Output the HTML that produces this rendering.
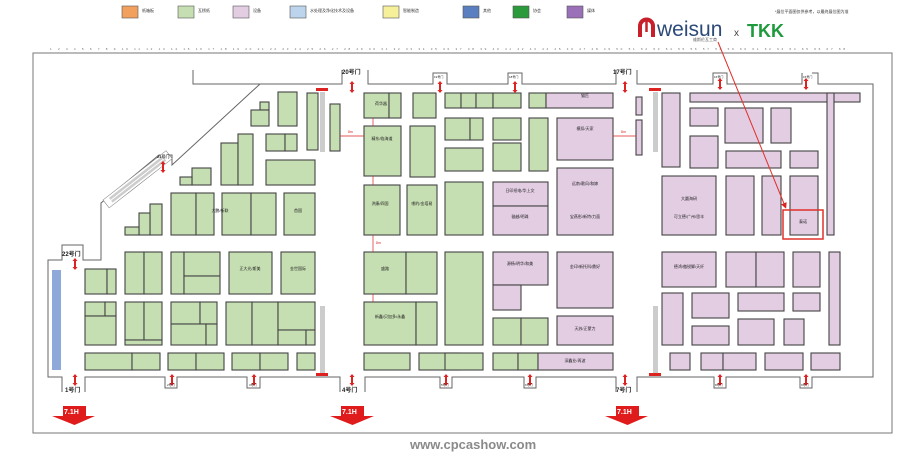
<!DOCTYPE html>
<html><head><meta charset="utf-8"><style>
html,body{margin:0;padding:0;background:#fff;width:918px;height:454px;overflow:hidden}
svg{display:block}
.g{fill:#c6dfb2;stroke:#444;stroke-width:1.1}
.p{fill:#e3cde3;stroke:#444;stroke-width:1.1}
.w{fill:none;stroke:#666;stroke-width:1}
text{font-family:"Liberation Sans","Noto Sans CJK SC",sans-serif}
.t{font-size:4px;fill:#222;text-anchor:middle}
.gl{font-size:6px;font-weight:bold;fill:#222}
</style></head><body>
<svg width="918" height="454" viewBox="0 0 918 454" xmlns="http://www.w3.org/2000/svg">
<defs>
<marker id="ah" markerWidth="6" markerHeight="6" refX="3" refY="3" orient="auto"><path d="M0,0 L6,3 L0,6z" fill="#d22"/></marker>
<g id="da"><path d="M0,-6 L-2.5,-3 L-1,-3 L-1,3 L-2.5,3 L0,6 L2.5,3 L1,3 L1,-3 L2.5,-3z" fill="#d22"/></g>
</defs>
<g font-size="4" fill="#333">
<rect x="122" y="6" width="16" height="12" fill="#f2a05e" stroke="#555" stroke-width=".6"/><text x="142" y="12" style="font-size:4px">纸箱板</text>
<rect x="178" y="6" width="16" height="12" fill="#c6dfb2" stroke="#555" stroke-width=".6"/><text x="198" y="12" style="font-size:4px">瓦楞纸</text>
<rect x="233" y="6" width="16" height="12" fill="#e3cde3" stroke="#555" stroke-width=".6"/><text x="253" y="12" style="font-size:4px">设备</text>
<rect x="290" y="6" width="16" height="12" fill="#bcd5ec" stroke="#555" stroke-width=".6"/><text x="310" y="12" style="font-size:4px">水处理及净化技术及设备</text>
<rect x="383" y="6" width="16" height="12" fill="#f6f09a" stroke="#555" stroke-width=".6"/><text x="403" y="12" style="font-size:4px">智能制造</text>
<rect x="463" y="6" width="16" height="12" fill="#5a7fc0" stroke="#555" stroke-width=".6"/><text x="483" y="12" style="font-size:4px">其他</text>
<rect x="513" y="6" width="16" height="12" fill="#2a9a3a" stroke="#555" stroke-width=".6"/><text x="533" y="12" style="font-size:4px">协会</text>
<rect x="567" y="6" width="16" height="12" fill="#9a70b8" stroke="#555" stroke-width=".6"/><text x="587" y="12" style="font-size:4px">媒体</text>
<text x="775" y="13" style="font-size:4px">*展位平面图仅供参考，以最终展位图为准</text>
</g>
<path d="M640,37 L640,26 A6.5,6.5 0 0 1 653,26 L653,37" fill="none" stroke="#c8202a" stroke-width="4"/>
<path d="M646.5,21 L646.5,32" stroke="#c8202a" stroke-width="2.5"/>
<text x="657" y="36" font-size="21" fill="#2c4a78" font-family="Liberation Sans,sans-serif">weisun</text>
<text x="693" y="41" font-size="4" fill="#555">维斯伦瓦工商</text>
<text x="734" y="36" font-size="10" fill="#444">x</text>
<text x="747" y="37" font-size="18" font-weight="bold" fill="#1e9a3c">TKK</text>
<g font-size="3" fill="#666">
<text x="50" y="50" textLength="795" lengthAdjust="spacing">1 2 3 4 5 6 7 8 9 10 11 12 13 14 15 16 17 18 19 20 21 22 23 24 25 26 27 28 29 30 31 32 33 34 35 36 37 38 39 40 41 42 43 44 45 46 47 48 49 50 51 52 53 54 55 56 57 58 59 60 61 62 63 64 65 66 67 68</text>
</g>
<rect x="33" y="53" width="859" height="380" fill="none" stroke="#777" stroke-width="1"/>
<polyline class="w" points="260,84 193,84 193,70"/>
<polyline class="w" points="260,84 172,165 172,155 159,155 101,203 101,260 83,260 83,245 62,245 62,260 48,260 48,377 62,377 62,392"/>
<polyline class="w" points="85,392 85,377 165,377 165,388 177,388 177,377 247,377 247,388 260,388 260,377 340,377 340,392"/>
<polyline class="w" points="365,392 365,377 440,377 440,388 452,388 452,377 524,377 524,388 536,388 536,377 616,377 616,392"/>
<polyline class="w" points="637,392 637,377 714,377 714,388 726,388 726,377 800,377 800,388 812,388 812,377 873,377 873,84 818,84 818,73 812,73"/>
<polyline class="w" points="802,73 802,84 727,84 727,73 713,73 713,84 637,84 637,70"/>
<polyline class="w" points="616,70 616,84 522,84 522,73 508,73 508,84 447,84 447,73 433,73 433,84 368,84 368,70"/>
<polyline class="w" points="342,70 342,84 260,84"/>
<g transform="translate(103,200) rotate(-38)"><rect x="0" y="0" width="80" height="10" fill="#fff" stroke="#888" stroke-width=".6"/><rect x="6" y="2" width="68" height="2.5" fill="#ccc"/><rect x="6" y="5.5" width="68" height="2.5" fill="#ccc"/></g>
<rect x="52" y="270" width="9" height="100" fill="#8ea9d9"/>
<rect x="320" y="92" width="5" height="60" fill="#ccc"/><rect x="316" y="88" width="12" height="3" fill="#d22"/>
<rect x="320" y="306" width="5" height="68" fill="#ccc"/><rect x="316" y="373" width="12" height="3" fill="#d22"/>
<rect x="653" y="92" width="5" height="60" fill="#ccc"/><rect x="649" y="88" width="12" height="3" fill="#d22"/>
<rect x="653" y="306" width="5" height="68" fill="#ccc"/><rect x="649" y="373" width="12" height="3" fill="#d22"/>
<g class="g">
<rect x="260" y="102" width="9" height="8"/><rect x="251" y="110" width="18" height="16"/>
<rect x="278" y="92" width="19" height="34"/>
<rect x="307" y="93" width="11" height="57"/><rect x="330" y="104" width="10" height="47"/>
<rect x="221" y="143" width="17" height="42"/><rect x="238" y="134" width="15" height="51"/>
<rect x="266" y="134" width="19" height="17"/><rect x="285" y="134" width="12" height="17"/>
<rect x="192" y="168" width="19" height="17"/><rect x="180" y="177" width="12" height="8"/>
<rect x="266" y="160" width="49" height="25"/>
<rect x="364" y="93" width="25" height="25"/><rect x="389" y="93" width="12" height="25"/>
<rect x="413" y="93" width="23" height="25"/>
<rect x="364" y="126" width="37" height="50"/><rect x="410" y="126" width="25" height="51"/>
<rect x="364" y="185" width="36" height="50"/><rect x="407" y="185" width="30" height="50"/>
<rect x="150" y="204" width="12" height="31"/><rect x="139" y="213" width="11" height="22"/><rect x="125" y="227" width="14" height="8"/>
<rect x="171" y="193" width="25" height="42"/><rect x="196" y="193" width="18" height="42"/>
<rect x="222" y="193" width="29" height="42"/><rect x="251" y="193" width="25" height="42"/>
<rect x="284" y="193" width="31" height="42"/>
<rect x="125" y="252" width="19" height="42"/><rect x="144" y="252" width="18" height="42"/>
<rect x="171" y="252" width="13" height="42"/><rect x="184" y="252" width="36" height="24"/><rect x="184" y="276" width="36" height="18"/>
<rect x="229" y="252" width="43" height="42"/><rect x="281" y="252" width="34" height="42"/>
<rect x="364" y="252" width="42" height="42"/><rect x="406" y="252" width="31" height="42"/>
<rect x="85" y="269" width="22" height="25"/><rect x="107" y="269" width="9" height="25"/>
<rect x="85" y="302" width="20" height="14"/><rect x="105" y="302" width="11" height="14"/><rect x="85" y="316" width="31" height="29"/>
<rect x="125" y="302" width="19" height="38"/><rect x="144" y="302" width="18" height="38"/><rect x="125" y="340" width="37" height="5"/>
<rect x="171" y="302" width="29" height="22"/><rect x="200" y="302" width="17" height="22"/><rect x="171" y="324" width="35" height="21"/><rect x="206" y="324" width="11" height="21"/>
<rect x="226" y="302" width="26" height="43"/><rect x="252" y="302" width="26" height="43"/>
<rect x="278" y="302" width="37" height="28"/><rect x="278" y="330" width="28" height="15"/><rect x="306" y="330" width="9" height="15"/>
<rect x="364" y="302" width="52" height="43"/><rect x="416" y="302" width="21" height="43"/>
<rect x="85" y="353" width="47" height="17"/><rect x="132" y="353" width="28" height="17"/>
<rect x="168" y="353" width="28" height="17"/><rect x="196" y="353" width="28" height="17"/>
<rect x="232" y="353" width="28" height="17"/><rect x="260" y="353" width="28" height="17"/>
<rect x="297" y="353" width="18" height="17"/>
<rect x="364" y="353" width="46" height="17"/><rect x="419" y="353" width="41" height="17"/>
<rect x="445" y="93" width="16" height="15"/><rect x="461" y="93" width="15" height="15"/><rect x="476" y="93" width="17" height="15"/><rect x="493" y="93" width="28" height="15"/>
<rect x="529" y="93" width="17" height="15"/>
<rect x="445" y="118" width="25" height="22"/><rect x="470" y="118" width="13" height="22"/>
<rect x="493" y="118" width="28" height="22"/>
<rect x="529" y="118" width="19" height="53"/>
<rect x="445" y="148" width="38" height="23"/><rect x="493" y="143" width="28" height="28"/>
<rect x="445" y="182" width="38" height="53"/>
<rect x="445" y="252" width="38" height="93"/>
<rect x="493" y="318" width="28" height="27"/><rect x="521" y="318" width="27" height="27"/>
<rect x="445" y="353" width="38" height="17"/><rect x="493" y="353" width="25" height="17"/><rect x="518" y="353" width="20" height="17"/>
</g>
<g class="p">
<rect x="546" y="93" width="67" height="15"/>
<rect x="557" y="118" width="56" height="42"/>
<rect x="557" y="168" width="56" height="67"/>
<rect x="493" y="182" width="55" height="24"/><rect x="493" y="206" width="55" height="29"/>
<rect x="636" y="97" width="6" height="18"/><rect x="636" y="120" width="6" height="35"/>
<rect x="662" y="93" width="18" height="74"/>
<rect x="690" y="93" width="170" height="9"/>
<rect x="690" y="108" width="28" height="18"/><rect x="690" y="136" width="28" height="32"/>
<rect x="725" y="108" width="38" height="35"/><rect x="771" y="108" width="20" height="35"/>
<rect x="726" y="151" width="55" height="17"/><rect x="790" y="151" width="28" height="17"/>
<rect x="827" y="93" width="7" height="142"/>
<rect x="662" y="176" width="54" height="59"/>
<rect x="726" y="176" width="28" height="59"/><rect x="762" y="176" width="19" height="59"/>
<rect x="790" y="176" width="28" height="59"/>
<rect x="493" y="252" width="55" height="33"/><rect x="493" y="285" width="28" height="25"/>
<rect x="557" y="252" width="56" height="56"/><rect x="557" y="316" width="56" height="29"/>
<rect x="538" y="353" width="75" height="17"/>
<rect x="662" y="252" width="54" height="35"/>
<rect x="726" y="252" width="30" height="35"/><rect x="756" y="252" width="28" height="35"/>
<rect x="793" y="252" width="27" height="35"/>
<rect x="829" y="252" width="11" height="93"/>
<rect x="662" y="293" width="21" height="52"/>
<rect x="692" y="293" width="37" height="25"/><rect x="692" y="326" width="37" height="19"/>
<rect x="738" y="293" width="46" height="18"/><rect x="738" y="319" width="36" height="26"/><rect x="784" y="319" width="20" height="26"/>
<rect x="793" y="293" width="27" height="18"/>
<rect x="670" y="353" width="20" height="17"/><rect x="701" y="353" width="22" height="17"/><rect x="723" y="353" width="33" height="17"/>
<rect x="765" y="353" width="38" height="17"/><rect x="811" y="353" width="29" height="17"/>
</g>
<g class="t">
<text x="381" y="105">荷华器</text><text x="382" y="140">精东/临海道</text><text x="380" y="205">洪康/四国</text><text x="422" y="205">哪约/金塔易</text>
<text x="385" y="270">盛路</text><text x="390" y="318">新鑫/贝加多/永鑫</text><text x="220" y="212">大鹏/新联</text><text x="298" y="212">首国</text>
<text x="250" y="270">正大光/斯美</text><text x="298" y="270">金世国际</text><text x="520" y="192">日印纸电/华上文</text><text x="520" y="218">骏越/明珠</text>
<text x="585" y="185">远南/歌风/和嫁</text><text x="585" y="218">宝燕彤/新特/力面</text><text x="689" y="200">大圆海研</text><text x="689" y="218">可立德/广州/思丰</text>
<text x="520" y="265">源杨/明华/和美</text><text x="585" y="268">金印/新托科/鼎好</text><text x="689" y="268">德鸿/傲锐脚/天纤</text><text x="585" y="330">天苏/正蒙力</text>
<text x="575" y="362">深鑫业/再波</text><text x="585" y="130">模扣/天家</text><text x="585" y="97">猫匹</text>
</g>
<g stroke="#d22" stroke-width=".7">
<line x1="340" y1="136" x2="364" y2="136"/><line x1="613" y1="136" x2="636" y2="136"/>
<line x1="373" y1="118" x2="373" y2="126"/><line x1="373" y1="176" x2="373" y2="185"/><line x1="373" y1="235" x2="373" y2="252"/><line x1="373" y1="294" x2="373" y2="302"/>
</g>
<g font-size="3.5" fill="#d22"><text x="348" y="133">8m</text><text x="621" y="133">8m</text><text x="376" y="244">8m</text></g>
<use href="#da" x="75" y="264"/><use href="#da" x="75" y="380"/><use href="#da" x="172" y="380"/><use href="#da" x="254" y="380"/>
<use href="#da" x="352" y="380"/><use href="#da" x="446" y="380"/><use href="#da" x="530" y="380"/><use href="#da" x="625" y="380"/>
<use href="#da" x="720" y="380"/><use href="#da" x="806" y="380"/>
<use href="#da" x="163" y="167"/><use href="#da" x="352" y="87"/><use href="#da" x="440" y="87"/><use href="#da" x="515" y="87"/>
<use href="#da" x="625" y="87"/><use href="#da" x="720" y="84"/><use href="#da" x="806" y="84"/>
<g class="gl">
<text x="62" y="256">22号门</text><text x="65" y="392">1号门</text><text x="342" y="392">4号门</text><text x="616" y="392">7号门</text>
<text x="342" y="74">20号门</text><text x="613" y="74">17号门</text><text x="157" y="158" style="font-size:4px">21号门</text>
</g>
<g font-size="3" fill="#222"><text x="167" y="386">2号门</text><text x="249" y="386">3号门</text><text x="441" y="386">5号门</text><text x="525" y="386">6号门</text><text x="715" y="386">8号门</text><text x="801" y="386">9号门</text>
<text x="434" y="78">19号门</text><text x="509" y="78">18号门</text><text x="714" y="78">16号门</text><text x="803" y="78">15号门</text></g>
<g>
<path d="M63,406 L86,406 L86,416 L95,416 L74.5,425 L52,416 L63,416z" fill="#e01b1b"/>
<path d="M341,406 L364,406 L364,416 L374,416 L352.5,425 L330,416 L341,416z" fill="#e01b1b"/>
<path d="M616,406 L639,406 L639,416 L648,416 L627.5,425 L605,416 L616,416z" fill="#e01b1b"/>
<g font-size="7" font-weight="bold" fill="#fff" font-family="Liberation Sans,sans-serif"><text x="64" y="414">7.1H</text><text x="342" y="414">7.1H</text><text x="617" y="414">7.1H</text></g>
</g>
<rect x="783" y="210" width="40" height="29" fill="none" stroke="#e0302a" stroke-width="1.5"/>
<line x1="718" y1="42" x2="785" y2="206" stroke="#e0302a" stroke-width="1" marker-end="url(#ah)"/>
<text x="803" y="223" class="t">泰诺</text>
<text x="410" y="449" font-size="13" font-weight="bold" fill="#8a8a8a" font-family="Liberation Sans,sans-serif">www.cpcashow.com</text>
</svg>
</body></html>
